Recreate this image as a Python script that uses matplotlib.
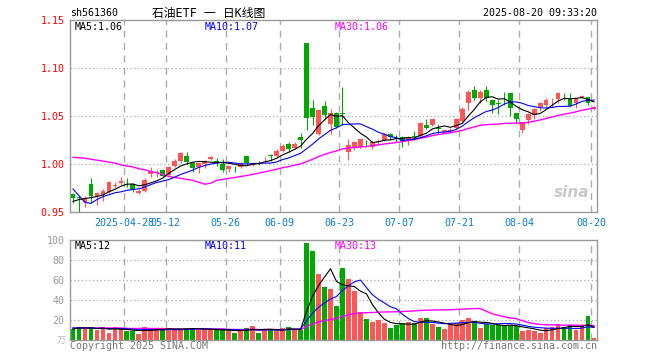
import matplotlib
matplotlib.use('Agg')
import matplotlib.pyplot as plt
import numpy as np

plt.rcParams['font.family'] = ['DejaVu Sans Mono', 'Noto Sans CJK SC']

# daily bars 2025-04-15 .. 2025-08-20 (88 trading days)
tick_idx = [9, 16, 26, 35, 45, 55, 65, 75, 87]
tick_labels = ['2025-04-28', '05-12', '05-26', '06-09', '06-23',
               '07-07', '07-21', '08-04', '08-20']

open_ = [0.9688, 0.9656, 0.9608, 0.9792, 0.9667, 0.9677, 0.9712, 0.9774, 0.9806, 0.9816,
         0.9788, 0.9694, 0.9722, 0.9896, 0.9906, 0.9938, 0.9885, 0.9979, 1.0035, 1.0083,
         1.0014, 0.9965, 0.9997, 1.0052, 1.0028, 0.9997, 0.9948, 0.9972, 0.9969, 1.0080,
         0.9986, 1.0021, 1.0049, 1.0097, 1.0087, 1.0135, 1.0212, 1.0163, 1.0281, 1.1260,
         1.0587, 1.0309, 1.0604, 1.0420, 1.0535, 1.0530, 1.0128, 1.0163, 1.0174, 1.0201,
         1.0174, 1.0233, 1.0250, 1.0313, 1.0271, 1.0278, 1.0250, 1.0288, 1.0292, 1.0406,
         1.0406, 1.0374, 1.0330, 1.0347, 1.0372, 1.0451, 1.0632, 1.0771, 1.0691, 1.0771,
         1.0667, 1.0635, 1.0722, 1.0736, 1.0528, 1.0354, 1.0458, 1.0510, 1.0590, 1.0615,
         1.0663, 1.0674, 1.0722, 1.0674, 1.0632, 1.0694, 1.0694, 1.0569]
close = [0.9646, 0.9646, 0.9649, 0.9667, 0.9701, 0.9719, 0.9816, 0.9781, 0.9823, 0.9810,
         0.9729, 0.9722, 0.9833, 0.9927, 0.9913, 0.9875, 0.9965, 1.0035, 1.0111, 1.0021,
         0.9962, 1.0007, 1.0024, 1.0076, 1.0021, 0.9938, 0.9983, 0.9965, 1.0014, 1.0010,
         1.0014, 1.0017, 1.0056, 1.0080, 1.0132, 1.0191, 1.0153, 1.0205, 1.0253, 1.0483,
         1.0493, 1.0563, 1.0510, 1.0528, 1.0389, 1.0524, 1.0198, 1.0233, 1.0257, 1.0194,
         1.0233, 1.0240, 1.0313, 1.0278, 1.0267, 1.0236, 1.0285, 1.0281, 1.0424, 1.0372,
         1.0465, 1.0368, 1.0354, 1.0354, 1.0465, 1.0573, 1.0753, 1.0691, 1.0753, 1.0691,
         1.0615, 1.0628, 1.0715, 1.0580, 1.0469, 1.0434, 1.0521, 1.0573, 1.0632, 1.0667,
         1.0670, 1.0736, 1.0715, 1.0608, 1.0691, 1.0712, 1.0632, 1.0590]
high = [0.9701, 0.9667, 0.9667, 0.9854, 0.9712, 0.9736, 0.9823, 0.9816, 0.9861, 0.9850,
        0.9800, 0.9736, 0.9854, 0.9965, 0.9938, 0.9944, 0.9979, 1.0049, 1.0128, 1.0128,
        1.0024, 1.0014, 1.0038, 1.0087, 1.0059, 1.0052, 0.9983, 0.9976, 1.0024, 1.0087,
        1.0021, 1.0031, 1.0076, 1.0104, 1.0156, 1.0205, 1.0233, 1.0226, 1.0326, 1.1260,
        1.0667, 1.0573, 1.0656, 1.0573, 1.0545, 1.0806, 1.0257, 1.0240, 1.0264, 1.0250,
        1.0240, 1.0257, 1.0319, 1.0326, 1.0302, 1.0292, 1.0292, 1.0344, 1.0441, 1.0469,
        1.0472, 1.0417, 1.0361, 1.0372, 1.0476, 1.0597, 1.0771, 1.0813, 1.0771, 1.0813,
        1.0674, 1.0667, 1.0750, 1.0743, 1.0535, 1.0441, 1.0528, 1.0580, 1.0642, 1.0691,
        1.0691, 1.0747, 1.0743, 1.0736, 1.0691, 1.0719, 1.0701, 1.0608]
low = [0.9590, 0.9503, 0.9549, 0.9597, 0.9573, 0.9618, 0.9701, 0.9747, 0.9781, 0.9760,
       0.9708, 0.9688, 0.9712, 0.9868, 0.9861, 0.9861, 0.9878, 0.9972, 1.0007, 1.0014,
       0.9920, 0.9910, 0.9955, 1.0038, 0.9983, 0.9920, 0.9920, 0.9913, 0.9962, 0.9990,
       0.9979, 0.9990, 1.0024, 1.0031, 1.0073, 1.0128, 1.0122, 1.0156, 1.0170, 1.0354,
       1.0410, 1.0302, 1.0458, 1.0310, 1.0375, 1.0406, 1.0042, 1.0146, 1.0163, 1.0174,
       1.0153, 1.0194, 1.0243, 1.0250, 1.0233, 1.0174, 1.0198, 1.0250, 1.0278, 1.0361,
       1.0396, 1.0313, 1.0319, 1.0326, 1.0361, 1.0441, 1.0560, 1.0667, 1.0632, 1.0660,
       1.0528, 1.0517, 1.0615, 1.0500, 1.0417, 1.0326, 1.0417, 1.0469, 1.0552, 1.0597,
       1.0597, 1.0632, 1.0667, 1.0597, 1.0580, 1.0688, 1.0615, 1.0563]
volume = [11, 13, 11, 13, 10, 13, 7, 13, 11, 9,
          9, 6, 13, 11, 12, 10, 11, 11, 11, 12,
          12, 10, 10, 10, 10, 10, 10, 7, 10, 12,
          14, 7, 10, 11, 9, 12, 13, 10, 10, 97,
          89, 66, 53, 51, 34, 72, 61, 49, 28, 21,
          18, 20, 17, 12, 15, 17, 18, 17, 22, 22,
          16, 13, 11, 16, 17, 20, 22, 18, 12, 16,
          15, 15, 14, 14, 14, 9, 10, 9, 7, 12,
          13, 16, 13, 15, 10, 14, 24, 2]

# moving-average values before enough bars exist
ma5_head = [0.961, 0.963, 0.964, 0.965]
ma10_head = [0.974, 0.967, 0.960, 0.959, 0.963, 0.966, 0.968, 0.970, 0.971]
ma30_head = [1.007, 1.0065, 1.006, 1.005, 1.004, 1.003, 1.002, 1.001, 0.999, 0.998,
             0.997, 0.995, 0.994, 0.992, 0.991, 0.989, 0.987, 0.986, 0.985, 0.984,
             0.983, 0.981, 0.979, 0.980, 0.983, 0.984, 0.985, 0.986, 0.987]
vma5_head = [11, 12, 12, 12]
vma10_head = [12, 12, 12, 12, 11.5, 11.5, 11.5, 11.5, 11.5]
vma30_head = [12, 12, 12, 12, 12, 12, 12, 12, 12, 11.5,
              11.5, 11.5, 11.5, 11.5, 11.5, 11.5, 11, 11, 11, 11,
              11, 11, 11, 11, 11, 11, 10.5, 10.5, 10.5]

RED = '#ff5555'
GREEN = '#00a800'
GRID = '#aaaaaa'


def moving_avg(values, head, n):
    out = list(head)
    for i in range(len(head), len(values)):
        out.append(np.mean(values[i - n + 1:i + 1]))
    return out


def px(x, y):
    return x / 660, 1 - y / 360


def style_panel(ax, hlines):
    for s in ax.spines.values():
        s.set_color('#999999')
        s.set_linewidth(1)
    for v in hlines:
        ax.axhline(v, color=GRID, lw=0.9, ls=(0, (1, 2)), zorder=0)
    for i in tick_idx:
        ax.axvline(i - 0.5, color=GRID, lw=1, ls=(0, (5, 4)), zorder=0)
    ax.set_xlim(-0.5, len(close) - 0.5)
    ax.tick_params(length=0)


n = len(close)
x = np.arange(n)
up = [c >= o for o, c in zip(open_, close)]
colors = [RED if u else GREEN for u in up]

fig = plt.figure(figsize=(6.6, 3.6), dpi=100)
ax = fig.add_axes([70 / 660, 1 - 212 / 360, 527 / 660, 192 / 360])
axv = fig.add_axes([70 / 660, 1 - 340 / 360, 527 / 660, 100 / 360])

# price panel
style_panel(ax, [1.00, 1.05, 1.10])
ax.vlines(x, low, high, colors=colors, lw=0.8, zorder=2)
bottoms = [min(o, c) for o, c in zip(open_, close)]
heights = [max(abs(c - o), 0.0004) for o, c in zip(open_, close)]
ax.bar(x, heights, bottom=bottoms, width=0.8, color=colors, lw=0, zorder=3)
ax.plot(x, moving_avg(close, ma30_head, 30), color='#ff00ff', lw=1.0, zorder=4)
ax.plot(x, moving_avg(close, ma10_head, 10), color='#0000ff', lw=0.8, zorder=4)
ax.plot(x, moving_avg(close, ma5_head, 5), color='black', lw=0.8, zorder=4)
ax.set_ylim(0.95, 1.15)
ax.set_yticks([0.95, 1.00, 1.05, 1.10, 1.15])
ax.set_yticklabels(['0.95', '1.00', '1.05', '1.10', '1.15'], color='red', fontsize=7.2)
ax.set_xticks([i - 0.5 for i in tick_idx])
ax.set_xticklabels(tick_labels, color='#0a7bd0', fontsize=7.2)
ax.tick_params(axis='y', pad=4)
ax.tick_params(axis='x', pad=4)
ax.text(0.985, 0.1, 'sina', transform=ax.transAxes, ha='right', va='center',
        fontsize=11, color='#c8c8c8', fontweight='bold', style='italic', family='DejaVu Sans')

# volume panel
style_panel(axv, [20, 40, 60, 80])
axv.bar(x, volume, width=0.8, color=colors, lw=0, zorder=2)
axv.plot(x, moving_avg(volume, vma30_head, 30), color='#ff00ff', lw=1.0, zorder=4)
axv.plot(x, moving_avg(volume, vma10_head, 10), color='#0000ff', lw=0.8, zorder=4)
axv.plot(x, moving_avg(volume, vma5_head, 5), color='black', lw=0.8, zorder=4)
axv.set_ylim(0, 100)
axv.set_yticks([20, 40, 60, 80, 100])
axv.set_yticklabels(['20', '40', '60', '80', '100'], color='#999999', fontsize=7.2)
axv.set_xticks([])
axv.tick_params(axis='y', pad=4)

# header and labels
fig.text(*px(70, 13), 'sh561360', fontsize=7.2, va='center', ha='left')
fig.text(*px(209, 13), '石油ETF 一 日K线图', fontsize=8.5, va='center', ha='center')
fig.text(*px(597, 13), '2025-08-20 09:33:20', fontsize=7.2, va='center', ha='right')
fig.text(*px(75, 27), 'MA5:1.06', fontsize=7.2, va='center', color='black')
fig.text(*px(205, 27), 'MA10:1.07', fontsize=7.2, va='center', color='#0000ff')
fig.text(*px(335, 27), 'MA30:1.06', fontsize=7.2, va='center', color='#ff00ff')
fig.text(*px(75, 246), 'MA5:12', fontsize=7.2, va='center', color='black')
fig.text(*px(205, 246), 'MA10:11', fontsize=7.2, va='center', color='#0000ff')
fig.text(*px(335, 246), 'MA30:13', fontsize=7.2, va='center', color='#ff00ff')
fig.text(*px(66, 341), '万', fontsize=6.5, va='center', ha='right', color='#bbbbbb')
fig.text(*px(70, 346), 'Copyright 2025 SINA.COM', fontsize=7.2, va='center', color='#777777')
fig.text(*px(597, 346), 'http://finance.sina.com.cn', fontsize=7.2, va='center', ha='right',
         color='#777777')

fig.savefig('out.png', dpi=100)
